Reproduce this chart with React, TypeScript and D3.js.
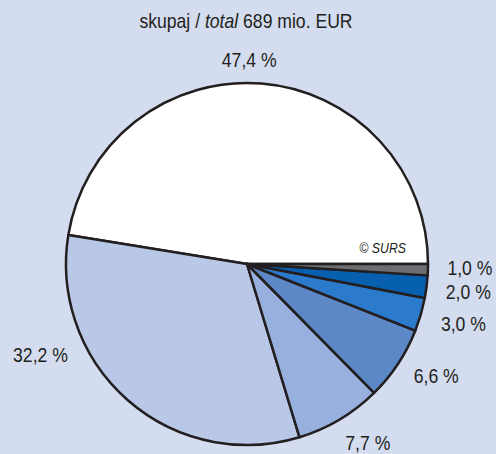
import React from "react";
import * as d3 from "d3";

const categories = ["A", "B", "C", "D", "E", "F", "G"];
const values = [47.4, 32.2, 7.7, 6.6, 3.0, 2.0, 1.0];
const valueLabels = ["47,4 %", "32,2 %", "7,7 %", "6,6 %", "3,0 %", "2,0 %", "1,0 %"];
const colors = ["#ffffff", "#b9c8e6", "#97b0dd", "#5c88c8", "#2c7acb", "#075fb0", "#6d6e71"];

// label layout nudges (px) relative to polar position
const labelNudge: [number, number][] = [
  [-15, 10],
  [-65, -71],
  [11, -6],
  [10, -7],
  [10, 0],
  [8, 1],
  [8, -3],
];

const W = 496;
const H = 454;
const cx = 247;
const cy = 264;
const R = 181;
const LR = 215;
const SX = 0.88;
const FONT = "'Liberation Sans', Arial, Helvetica, sans-serif";

export default function App() {
  if (typeof document !== "undefined") document.body.style.margin = "0";
  const data = categories.map((c, i) => ({ c, v: values[i], i }));
  const pie = d3
    .pie<any>()
    .sort(null)
    .value((d) => d.v)
    .startAngle(Math.PI / 2)
    .endAngle(Math.PI / 2 - 2 * Math.PI);
  const arcs = pie(data);
  const arc = d3.arc<any>().innerRadius(0).outerRadius(R);

  return (
    <svg width={W} height={H} style={{ position: "absolute", left: 0, top: 0, display: "block" }}>
      <rect x={0} y={0} width={W} height={H} fill="#d4dcef" />
      <text transform={`translate(246,28) scale(${SX},1)`} textAnchor="middle" fontFamily={FONT} fontSize={20} fill="#231f20">
        skupaj / <tspan fontStyle="italic">total</tspan> 689 mio. EUR
      </text>
      <g transform={`translate(${cx},${cy})`}>
        {arcs.map((a, i) => (
          <path key={i} d={arc(a) as string} fill={colors[i]} stroke="#231f20" strokeWidth={2.5} strokeLinejoin="round" />
        ))}
      </g>
      <text transform={`translate(406,253) scale(${SX},1)`} textAnchor="end" fontFamily={FONT} fontSize={14} fontStyle="italic" fill="#231f20">
        © SURS
      </text>
      {arcs.map((a, i) => {
        const mid = (a.startAngle + a.endAngle) / 2;
        const x = cx + LR * Math.sin(mid) + labelNudge[i][0];
        const y = cy - LR * Math.cos(mid) + labelNudge[i][1];
        return (
          <text key={i} transform={`translate(${x},${y}) scale(${SX},1)`} dy="0.35em" textAnchor="middle" fontFamily={FONT} fontSize={20} fill="#231f20">
            {valueLabels[i]}
          </text>
        );
      })}
    </svg>
  );
}
